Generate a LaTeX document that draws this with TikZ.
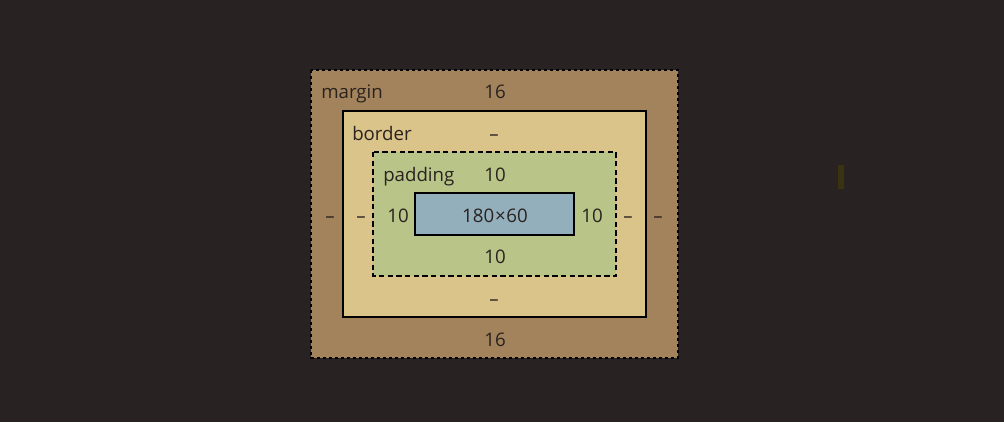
\documentclass[tikz,border=0pt]{standalone}
\usepackage{fontspec}
\setmainfont{Open Sans}
\usepackage{xcolor}
\usetikzlibrary{positioning}
\definecolor{bgcolor}{HTML}{282322}
\definecolor{mcolor}{HTML}{A3835B}
\definecolor{bcolor}{HTML}{DAC48A}
\definecolor{pcolor}{HTML}{B8C488}
\definecolor{ccolor}{HTML}{93AFBC}
\definecolor{tcolor}{HTML}{2A221F}
\definecolor{markcolor}{HTML}{3A3310}

\begin{document}
\begin{tikzpicture}[x=0.75pt,y=-0.75pt,
    lbl/.style={text=tcolor,font=\fontsize{14}{16}\selectfont,inner sep=0pt,anchor=base},
    side/.style={lbl,anchor=base west}]
  \fill[bgcolor] (0,0) rectangle (1004,422);
  \useasboundingbox (0,0) rectangle (1004,422);
  % nested boxes
  \draw[fill=mcolor,line width=1.1pt,dash pattern=on 2.25pt off 2.25pt] (311,70) rectangle (678,358);
  \draw[fill=bcolor,line width=1.5pt] (343,111) rectangle (646,317);
  \draw[fill=pcolor,line width=1.5pt,dash pattern=on 4pt off 2.5pt] (373,152) rectangle (616,276);
  \draw[fill=ccolor,line width=1.5pt] (415,193) rectangle (574,235);
  % captions
  \node[side] (mlbl) at (321,98.5) {margin};
  \node[side] (blbl) at (352,140) {border};
  \node[side] (plbl) at (383,181) {padding};
  \node[lbl] (size) at (495,222.5) {180\kern0.6pt×\kern0.6pt60};
  % values top/bottom
  \foreach \nm/\x/\y/\t in {mt/495/98.5/16, mb/495/346/16, bt/494/140/–, bb/494/305/–,
      pt/495/181/10, pb/495/263/10}
    \node[lbl] (\nm) at (\x,\y) {\t};
  % values left/right
  \foreach \nm/\x/\t in {ml/330/–, bl/361/–, pl/398/10, pr/592/10, br/628/–, mr/658/–}
    \node[lbl] (\nm) at (\x,222.5) {\t};
  \fill[markcolor] (838,165) rectangle (844,189);
\end{tikzpicture}
\end{document}
